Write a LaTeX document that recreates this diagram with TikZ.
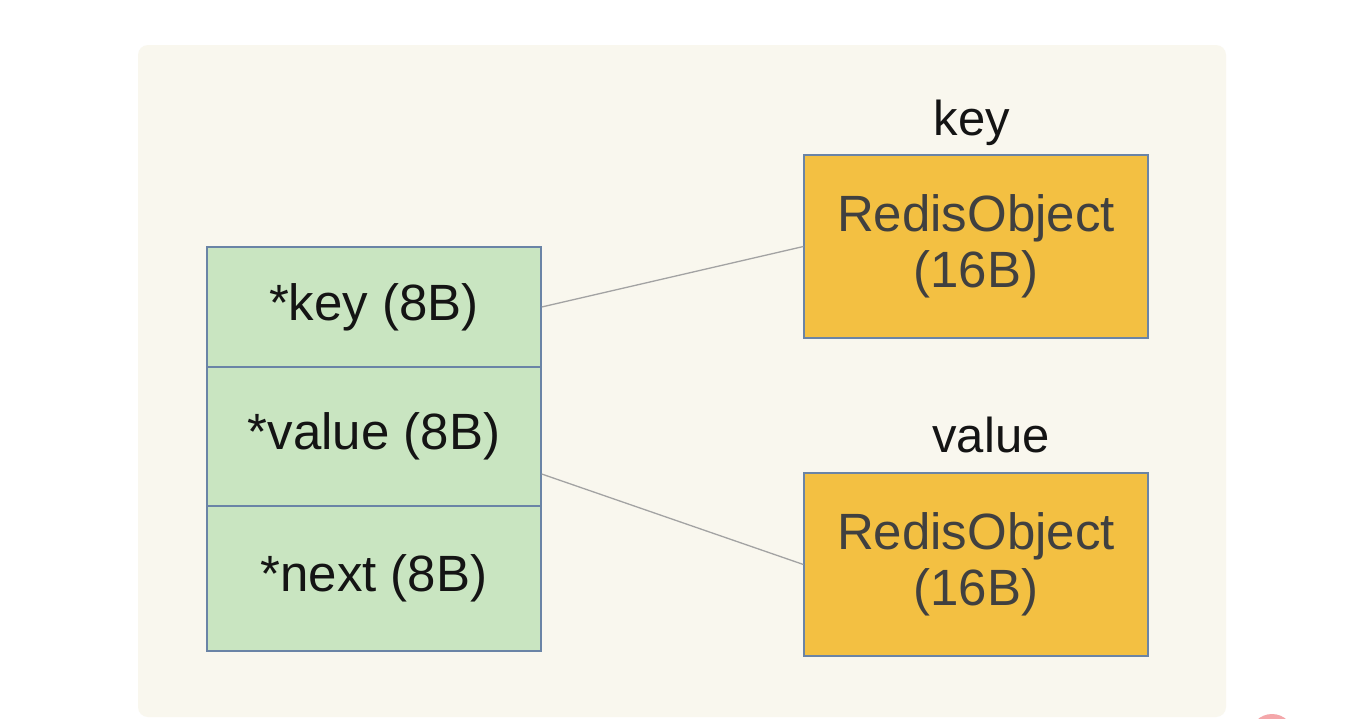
\documentclass[tikz,border=0pt]{standalone}
\usepackage{fontspec}
\setmainfont{Liberation Sans}
\definecolor{cream}{HTML}{F9F7EE}
\definecolor{rowgreen}{HTML}{C9E5C1}
\definecolor{objorange}{HTML}{F3C042}
\definecolor{edgeblue}{HTML}{6A84A6}
\definecolor{linkgray}{HTML}{A3A3A3}
\definecolor{objtext}{HTML}{404040}
\definecolor{dotpink}{HTML}{F4A7AA}
\tikzset{
  field/.style={draw=edgeblue, line width=1.4pt, fill=rowgreen, minimum width=334pt, inner sep=0pt, text=black!92,
    font=\fontsize{51pt}{57pt}\selectfont},
  obj/.style={draw=edgeblue, line width=1.2pt, fill=objorange, minimum width=344pt, minimum height=183pt, inner sep=0pt,
    text=objtext, align=center, font=\fontsize{51pt}{56pt}\selectfont},
  tag/.style={inner sep=0pt, text=black!92, font=\fontsize{49pt}{54pt}\selectfont},
  link/.style={draw=linkgray, line width=1.3pt}
}
\begin{document}
\begin{tikzpicture}[x=1pt,y=-1pt]
\useasboundingbox (0,0) rectangle (1350,718);
\clip (0,0) rectangle (1350,718);
\fill[white] (0,0) rectangle (1350,718);
\fill[cream, rounded corners=10pt] (138,45) rectangle (1226,717);
\fill[dotpink] (1272,736) circle (22);
% fields
\node[field, minimum height=120pt] (k) at (374,307) {*key (8B)};
\node[field, minimum height=139pt] (v) at (374,436.5) {*value (8B)};
\node[field, minimum height=145pt] (n) at (374,578.5) {*next (8B)};
% objects
\node[obj] (ko) at (976,246.5) {RedisObject\\(16B)};
\node[obj] (vo) at (976,564.5) {RedisObject\\(16B)};
% labels
\node[tag, anchor=base] (kl) at (972,135) {key};
\node[tag, anchor=base] (vl) at (991,452) {value};
% links
\draw[link] (k.east) -- (ko.west);
\draw[link] ([yshift=-37.5pt]v.east) -- (vo.west);
\end{tikzpicture}
\end{document}
